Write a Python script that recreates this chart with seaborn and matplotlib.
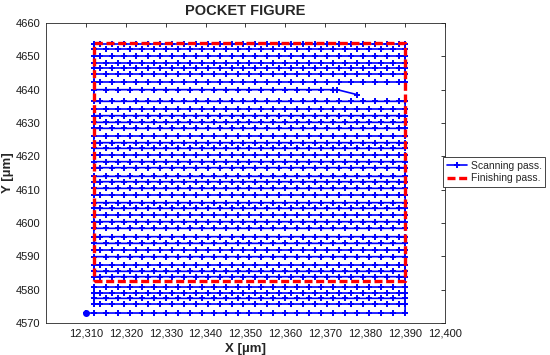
import matplotlib
matplotlib.use("Agg")
import matplotlib.pyplot as plt
from matplotlib.lines import Line2D
from matplotlib.ticker import FuncFormatter
import numpy as np
import pandas as pd
import seaborn as sns

# -----------------------------
# Data
# -----------------------------
# y of each scanning row, bottom to top [um]
row_y = [4573.0, 4575.7, 4577.4, 4579.0, 4580.8, 4583.9, 4585.5, 4587.4,
         4589.9, 4591.9, 4593.9, 4595.9, 4598.4, 4600.4, 4602.4, 4604.4,
         4606.1, 4608.4, 4610.4, 4612.4, 4614.0, 4616.6, 4618.4, 4620.4,
         4622.4, 4624.1, 4626.1, 4628.4, 4630.2, 4632.2, 4634.2, 4636.5,
         4640.0, 4642.3, 4644.7, 4646.4, 4648.1, 4650.2, 4652.3, 4653.8]
# x of the sample points along a row [um]; odd and even rows are staggered
pass_x_even = [12312, 12315, 12318, 12321, 12324, 12327, 12330, 12333, 12336,
               12339, 12342, 12345, 12348, 12351, 12354, 12357, 12360, 12363,
               12366, 12369, 12372, 12375, 12378, 12381, 12384, 12387, 12390]
pass_x_odd = [12390, 12388.5, 12385.5, 12382.5, 12379.5, 12376.5, 12373.5,
              12370.5, 12367.5, 12364.5, 12361.5, 12358.5, 12355.5, 12352.5,
              12349.5, 12346.5, 12343.5, 12340.5, 12337.5, 12334.5, 12331.5,
              12328.5, 12325.5, 12322.5, 12319.5, 12316.5, 12313.5, 12312]
# start point of the scan and the short row near the top
start_pt = (12310, 4573.0)
short_row_y = 4640.0
short_row_end = [(12373, 4640.0), (12378, 4638.5)]

# finishing pass (rectangle corners)
finish_x = [12312, 12390, 12390, 12312, 12312]
finish_y = [4582.5, 4582.5, 4654.0, 4654.0, 4582.5]

# -----------------------------
# Build the zig-zag tool path
# -----------------------------
xs, ys, seg = [start_pt[0]], [start_pt[1]], [0]
s = 0
for i, y in enumerate(row_y):
    row_x = pass_x_even if i % 2 == 0 else pass_x_odd
    if y == short_row_y:
        pts = [(x, y) for x in sorted(row_x) if x < short_row_end[0][0]] + short_row_end
        if i % 2 == 1:
            pts = pts[::-1]
    else:
        pts = [(x, y) for x in row_x]
    for x, yy in pts:
        xs.append(x); ys.append(yy); seg.append(s)
    if y == short_row_y:
        s += 1  # break the path after the short row
scan = pd.DataFrame({"x": xs, "y": ys, "seg": seg})
finish = pd.DataFrame({"x": finish_x, "y": finish_y})

# -----------------------------
# Plot
# -----------------------------
sns.set_style("white")
plt.rcParams["font.family"] = ["Liberation Sans", "DejaVu Sans"]

fig = plt.figure(figsize=(5.5, 3.55), dpi=100)
ax = fig.add_axes([0.0836, 0.0901, 0.7255, 0.8451])

blue = "#0000ff"
sns.lineplot(data=scan, x="x", y="y", units="seg", estimator=None, sort=False,
             color=blue, lw=1.2, marker="+", markersize=4,
             markeredgewidth=1.4, markeredgecolor=blue, ax=ax, legend=False)
ax.plot(start_pt[0], start_pt[1], "o", color=blue, ms=4)
sns.lineplot(data=finish, x="x", y="y", estimator=None, sort=False, color="red",
             lw=2.4, ax=ax, legend=False)
ax.lines[-1].set_linestyle((0, (2.4, 1.1)))

ax.set_xlim(12300, 12400)
ax.set_ylim(4570, 4660)
ax.set_xticks(np.arange(12310, 12401, 10))
ax.set_yticks(np.arange(4570, 4661, 10))
ax.xaxis.set_major_formatter(FuncFormatter(lambda v, p: f"{int(v):,}"))
ax.tick_params(direction="in", length=3, width=0.6, labelsize=8, colors="#1a1a1a",
               top=True, right=True, pad=4)
for sp in ax.spines.values():
    sp.set_color("#262626")
    sp.set_linewidth(0.6)

ax.set_title("POCKET FIGURE", fontsize=10.5, fontweight="bold", pad=6)
ax.set_xlabel("X [µm]", fontsize=9.5, fontweight="bold", labelpad=3)
ax.set_ylabel("Y [µm]", fontsize=9.5, fontweight="bold", labelpad=1)

handles = [Line2D([], [], color=blue, lw=1.2, marker="+", ms=4, mew=1.4),
           Line2D([], [], color="red", lw=2.4, ls=(0, (2.4, 1.1)))]
leg = fig.legend(handles, ["Scanning pass.", "Finishing pass."], loc="center left",
                 bbox_to_anchor=(443 / 550, 1 - 172 / 355), fontsize=7.5,
                 fancybox=False, framealpha=1, edgecolor="#262626",
                 handlelength=2.0, handletextpad=0.3, borderpad=0.35,
                 labelspacing=0.25, borderaxespad=0)
leg.get_frame().set_linewidth(0.6)

fig.savefig("out.png", dpi=100, facecolor="white")
